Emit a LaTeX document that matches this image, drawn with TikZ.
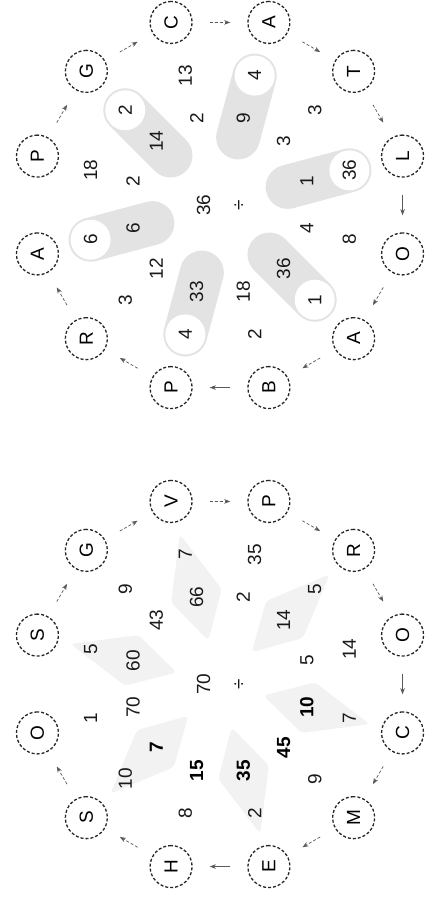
\documentclass[tikz,border=0pt]{standalone}
\usepackage{fontspec}
\setmainfont{Liberation Sans}
\usetikzlibrary{arrows.meta,calc}

\begin{document}
\begin{tikzpicture}[x=1pt, y=-1pt, >=Stealth,
    every node/.style={font=\fontsize{19}{23}\selectfont, rotate=90},
    ltr/.style={circle, draw=black!85, densely dashed, line width=1.3pt,
                minimum size=42pt, inner sep=0pt, font=\fontsize{19}{22}\selectfont},
    num/.style={text=black!90},
    numb/.style={text=black, font=\fontsize{19}{23}\selectfont\bfseries},
    link/.style={->, draw=black!65, line width=0.7pt, shorten >=17pt, shorten <=17pt},
    pill/.style={draw=black!11, line width=44pt, line cap=round},
    spike/.style={fill=black!5, rounded corners=4pt}]
  \def\ringr{189}
  \def\innr{90}
  \def\outr{134}

  \useasboundingbox (0,0) rectangle (424,900);
  \coordinate (hubR) at (220,205);
  \coordinate (hubL) at (220,684);

  % right wheel
  \foreach \a in {15,75,135,195,255,315} {
    \draw[pill] ($(hubR)+(\a-90:70)$) -- ($(hubR)+(\a-90:\outr)$);
    \fill[white] ($(hubR)+(\a-90:\outr)$) circle (20);
  }
  \foreach \a/\t [count=\i] in {285/P,315/G,345/C,15/A,45/T,75/L,105/O,135/A,165/B,195/P,225/R,255/A}
    \node[ltr] (r\i) at ($(hubR)+(\a-90:\ringr)$) {\t};
  \foreach \a/\p/\q in {345/2/13,15/9/4,45/3/3,75/1/36,105/4/8,135/36/1,
                        165/18/2,195/33/4,225/12/3,255/6/6,285/2/18,315/14/2} {
    \node[num] (ri\a) at ($(hubR)+(\a-90:\innr)$) {\p};
    \node[num] (ro\a) at ($(hubR)+(\a-90:\outr)$) {\q};
  }
  \node[num, align=center] (divR) at (221,205) {36\\[12pt]÷};
  \foreach \i/\j in {1/2,2/3,3/4,4/5,5/6,7/8,8/9,10/11,11/12}
    \draw[link, dash pattern=on 3pt off 2pt] (r\i) -- (r\j);
  \draw[link] (r6) -- (r7);
  \draw[link] (r9) -- (r10);

  % left wheel
  \foreach \a in {285,345,45,105,165,225}
    \fill[spike] ($(hubL)+(\a-90:45)$) -- ($(hubL)+(\a-106:95)$)
      -- ($(hubL)+(\a-90:155)$) -- ($(hubL)+(\a-74:95)$) -- cycle;
  \foreach \a/\t [count=\i] in {285/S,315/G,345/V,15/P,45/R,75/O,105/C,135/M,165/E,195/H,225/S,255/O}
    \node[ltr] (l\i) at ($(hubL)+(\a-90:\ringr)$) {\t};
  \foreach \a/\p/\q/\w in {345/66/7/num,15/2/35/num,45/14/5/num,75/5/14/num,
                           105/10/7/numb,135/45/9/numb,165/35/2/numb,195/15/8/numb,
                           225/7/10/numb,255/70/1/num,285/60/5/num,315/43/9/num} {
    \node[\w] (li\a) at ($(hubL)+(\a-90:\innr)$) {\p};
    \node[num] (lo\a) at ($(hubL)+(\a-90:\outr)$) {\q};
  }
  \node[num, align=center] (divL) at (221,684) {70\\[12pt]÷};
  \foreach \i/\j in {1/2,2/3,3/4,4/5,5/6,7/8,8/9,10/11,11/12}
    \draw[link, dash pattern=on 3pt off 2pt] (l\i) -- (l\j);
  \draw[link] (l6) -- (l7);
  \draw[link] (l9) -- (l10);
\end{tikzpicture}
\end{document}
